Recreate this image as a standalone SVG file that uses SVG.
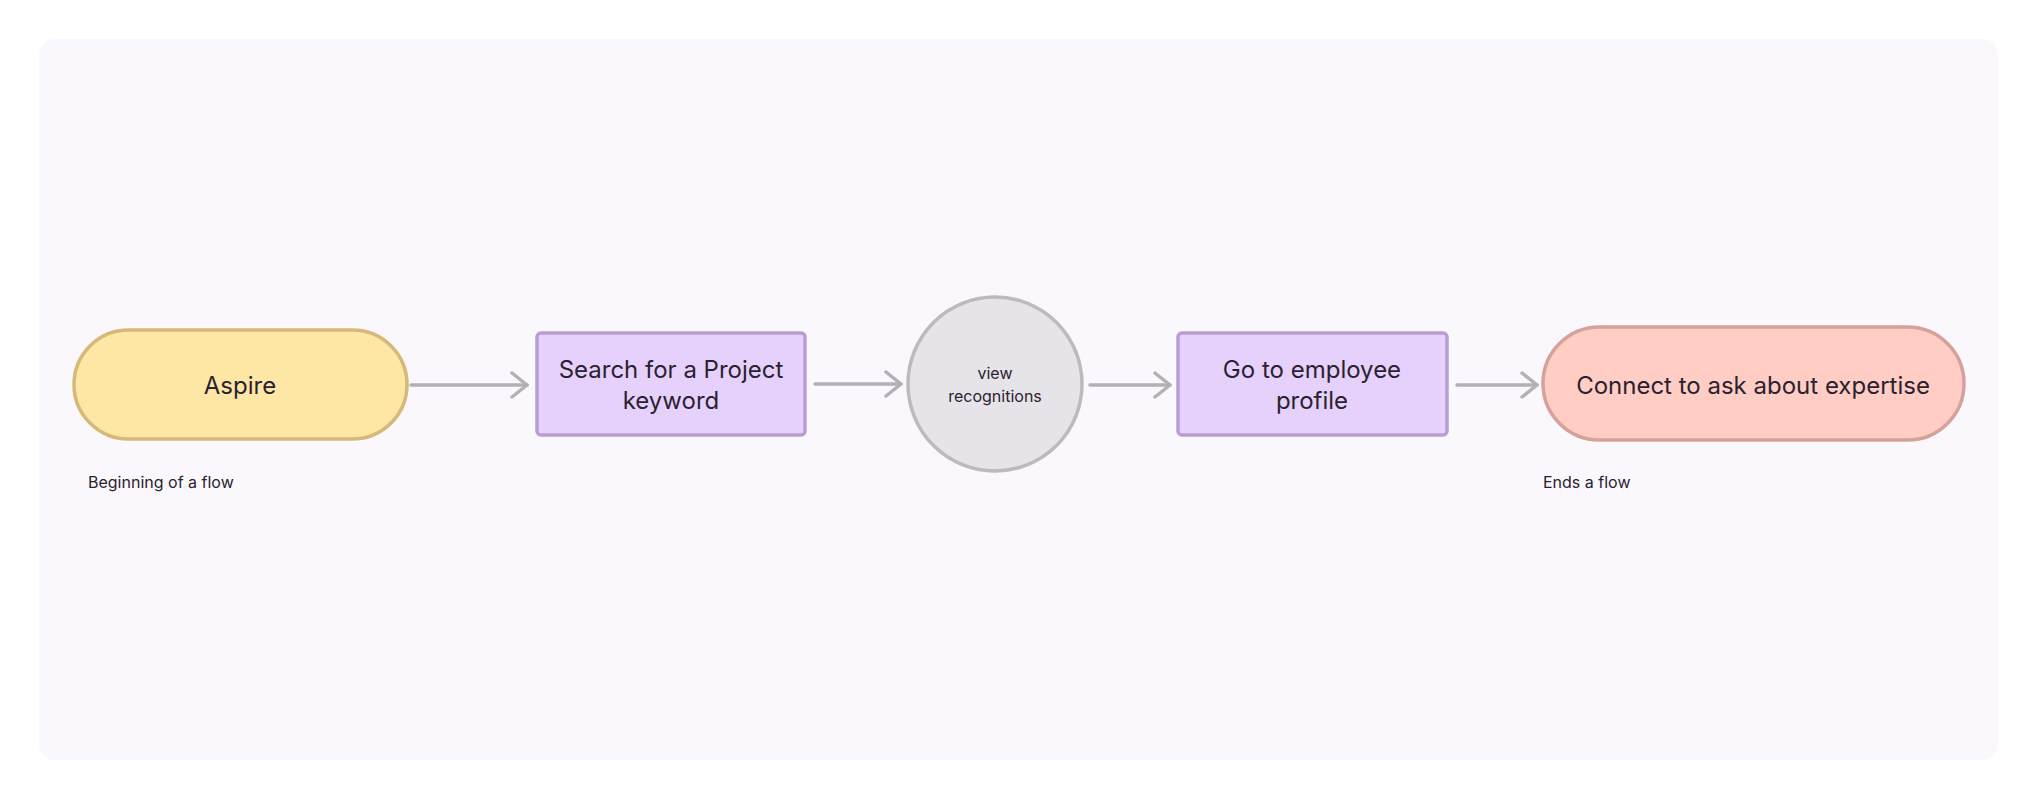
<svg xmlns="http://www.w3.org/2000/svg" width="2037" height="800" viewBox="0 0 2037 800">
<style>
text{font-family:Inter,"Noto Sans",sans-serif;fill:#2a2230;text-anchor:middle;dominant-baseline:central}
.big{font-size:24px}.small{font-size:16px}
.lbl{font-size:16px;text-anchor:start}
.proc{fill:#e6d1fd;stroke:#b69fd0;stroke-width:3.5}
.con{stroke:#b3b0b6;stroke-width:3.5;fill:none;stroke-linecap:round}
</style>
<defs><marker id="ah" viewBox="0 0 20 30" refX="18" refY="15" markerWidth="20" markerHeight="30" markerUnits="userSpaceOnUse" orient="auto"><path d="M3,3 L18,15 L3,27" fill="none" stroke="#b3b0b6" stroke-width="3.5" stroke-linecap="round" stroke-linejoin="round"/></marker></defs>
<rect x="0" y="0" width="2037" height="800" fill="#ffffff"/>
<rect x="39" y="39" width="1959" height="721" rx="16" fill="#faf8fc"/>
<g id="connectors">
<line class="con" x1="411" y1="385" x2="527" y2="385" marker-end="url(#ah)"/>
<line class="con" x1="815" y1="384" x2="901" y2="384" marker-end="url(#ah)"/>
<line class="con" x1="1090" y1="385" x2="1170" y2="385" marker-end="url(#ah)"/>
<line class="con" x1="1457" y1="385" x2="1537" y2="385" marker-end="url(#ah)"/>
</g>
<g id="aspire"><rect x="74" y="330" width="333" height="109" rx="54.5" fill="#fee6a5" stroke="#d6b878" stroke-width="3.5"/><text class="big" x="240" y="385">Aspire</text></g>
<g id="search"><rect class="proc" x="537" y="333" width="268" height="102" rx="4"/><text class="big" x="671" y="369">Search for a Project</text><text class="big" x="671" y="400">keyword</text></g>
<g id="view"><circle cx="995" cy="384" r="87" fill="#e6e4e8" stroke="#bcbabe" stroke-width="3.5"/><text class="small" x="995" y="373">view</text><text class="small" x="995" y="396">recognitions</text></g>
<g id="profile"><rect class="proc" x="1178" y="333" width="269" height="102" rx="4"/><text class="big" x="1312" y="369">Go to employee</text><text class="big" x="1312" y="400">profile</text></g>
<g id="connect"><rect x="1543" y="327" width="421" height="113" rx="56.5" fill="#ffcdc4" stroke="#d4a29b" stroke-width="3.5"/><text class="big" x="1753" y="385">Connect to ask about expertise</text></g>
<g id="labels"><text class="lbl" x="88" y="482">Beginning of a flow</text><text class="lbl" x="1543" y="482">Ends a flow</text></g>
</svg>
